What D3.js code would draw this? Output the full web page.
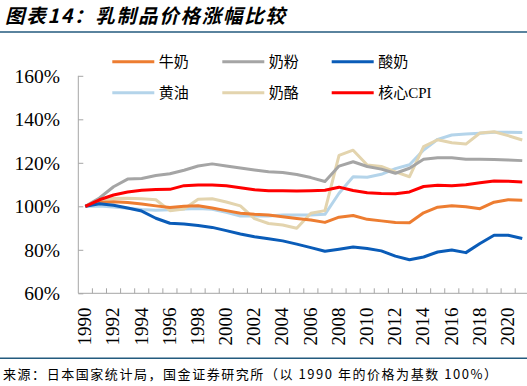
<!DOCTYPE html>
<html>
<head>
<meta charset="utf-8">
<script src="https://cdn.jsdelivr.net/npm/d3@7"></script>
<style>
  html, body { margin: 0; padding: 0; background: #fff; }
  svg { display: block; }
</style>
</head>
<body>
<div id="chart"></div>
<script>
// years on the category axis
const years = d3.range(1990, 2022);
const yTicks = [60, 80, 100, 120, 140, 160];

// price index, 1990 = 100
const milk = [100, 101.8, 102.1, 101.8, 101.1, 100.2, 99.4, 100.0, 100.3, 99.2, 98.0, 96.8, 96.3, 96.0, 95.2, 94.4, 93.7, 92.6,
  95.0, 95.8, 94.0, 93.3, 92.5, 92.4, 97.0, 99.6, 100.2, 99.8, 98.9, 101.9, 103.0, 102.8];
const milkPowder = [100, 103.8, 109.0, 112.5, 112.8, 114.2, 115.0, 116.6, 118.5, 119.5, 118.5, 117.6, 116.7, 115.9, 115.5, 114.6, 113.2, 111.4,
  118.5, 120.5, 118.3, 117.1, 115.2, 117.5, 121.6, 122.3, 122.3, 121.6, 121.6, 121.5, 121.3, 121.0];
const yogurt = [100, 101.2, 100.5, 99.2, 97.8, 94.5, 92.2, 91.9, 91.2, 90.3, 88.8, 87.3, 86.0, 85.1, 84.1, 82.6, 81.0, 79.3,
  80.3, 81.3, 80.6, 79.5, 77.1, 75.4, 76.7, 79.0, 79.9, 78.7, 82.9, 86.7, 86.7, 85.2];
const butter = [100, 100.1, 99.7, 99.1, 98.5, 98.2, 98.4, 98.8, 99.0, 98.6, 97.2, 95.5, 95.5, 95.5, 96.0, 96.0, 96.0, 96.3,
  106.0, 113.6, 113.4, 114.7, 117.3, 119.1, 125.9, 130.8, 132.8, 133.2, 133.6, 134.0, 134.0, 133.9];
const cheese = [100, 102.8, 103.6, 103.7, 103.5, 103.0, 98.0, 98.8, 103.2, 103.5, 102.0, 100.2, 94.3, 92.1, 91.4, 89.9, 96.8, 98.0,
  123.4, 125.8, 119.0, 118.3, 115.8, 113.6, 127.4, 130.6, 129.2, 128.6, 133.7, 134.3, 132.5, 130.5];
const coreCpi = [100, 103.0, 105.2, 106.6, 107.4, 107.7, 107.8, 109.5, 109.8, 109.8, 109.4, 108.5, 107.6, 107.2, 107.1, 107.0, 107.2, 107.4,
  108.8, 107.3, 106.2, 105.9, 105.8, 106.6, 109.1, 109.7, 109.4, 109.9, 110.8, 111.6, 111.5, 111.2];

const seriesNames = ['牛奶', '奶粉', '酸奶', '黄油', '奶酪', '核心CPI'];
const seriesColors = ['#ED7D31', '#A5A5A5', '#0A5CB8', '#B4D4EA', '#E3D4AE', '#FF0000'];
const seriesValues = [milk, milkPowder, yogurt, butter, cheese, coreCpi];
// draw order, back to front
const drawOrder = [3, 4, 0, 1, 2, 5];

const width = 527;
const height = 386;
const plot = {left: 78.3, right: 529.3, top: 75.8, bottom: 293.3};
const navy = '#235a7e';
const axisGrey = '#a6a6a6';
const serif = '"Liberation Serif", "Times New Roman", serif';
const cjk = '"Liberation Serif", "Noto Sans CJK SC", serif';

const svg = d3.select('#chart')
  .append('svg')
  .attr('width', width)
  .attr('height', height);

// -------------------------------------------------------------------------
// Title and source

svg.append('text')
  .attr('x', 5)
  .attr('y', 23)
  .attr('textLength', 280)
  .attr('lengthAdjust', 'spacing')
  .style('font-family', '"Noto Sans CJK SC", sans-serif')
  .style('font-weight', 700)
  .style('font-style', 'italic')
  .style('font-size', '19.5px')
  .attr('fill', '#000')
  .text('图表14：乳制品价格涨幅比较');

svg.append('line')
  .attr('x1', 0).attr('x2', width)
  .attr('y1', 32).attr('y2', 32)
  .attr('stroke', navy)
  .attr('stroke-width', 1.5);

svg.append('line')
  .attr('x1', 0).attr('x2', width)
  .attr('y1', 358.3).attr('y2', 358.3)
  .attr('stroke', navy)
  .attr('stroke-width', 1.5);

svg.append('text')
  .attr('x', 3)
  .attr('y', 379)
  .attr('textLength', 494)
  .attr('lengthAdjust', 'spacing')
  .style('font-family', '"Noto Sans CJK SC", sans-serif')
  .style('font-size', '13px')
  .attr('fill', '#000')
  .text('来源：日本国家统计局，国金证券研究所（以 1990 年的价格为基数 100%）');

// -------------------------------------------------------------------------
// Scales

const x = d3.scaleBand()
  .domain(years)
  .range([plot.left, plot.right])
  .paddingInner(0)
  .paddingOuter(0);

const y = d3.scaleLinear()
  .domain([60, 160])
  .range([plot.bottom, plot.top]);

const cx = (yr) => x(yr) + x.bandwidth() / 2;

// -------------------------------------------------------------------------
// Axes

const yAxis = svg.append('g')
  .attr('transform', `translate(${plot.left},0)`)
  .call(d3.axisRight(y).tickValues(yTicks).tickSize(5).tickFormat(''));
yAxis.select('.domain').attr('stroke', axisGrey).attr('d', `M0,${plot.top}V${plot.bottom}`);
yAxis.selectAll('.tick line').attr('stroke', axisGrey);

svg.append('g')
  .selectAll('text')
  .data(yTicks)
  .enter()
  .append('text')
  .attr('x', 60)
  .attr('y', (d) => y(d))
  .attr('dy', '0.35em')
  .attr('text-anchor', 'end')
  .style('font-family', serif)
  .style('font-size', '19.5px')
  .attr('fill', '#000')
  .text((d) => `${d}%`);

// tick marks sit on category boundaries
const boundaries = d3.range(1, years.length).map((i) => x(years[i]));
const xAxis = svg.append('g');
xAxis.append('line')
  .attr('x1', plot.left).attr('x2', plot.right)
  .attr('y1', plot.bottom).attr('y2', plot.bottom)
  .attr('stroke', axisGrey);
xAxis.selectAll('.xtick')
  .data(boundaries)
  .enter()
  .append('line')
  .attr('class', 'xtick')
  .attr('x1', (d) => d).attr('x2', (d) => d)
  .attr('y1', plot.bottom).attr('y2', plot.bottom - 5)
  .attr('stroke', axisGrey);

xAxis.selectAll('.xlabel')
  .data(years.filter((yr) => (yr - 1990) % 2 === 0))
  .enter()
  .append('text')
  .attr('class', 'xlabel')
  .attr('transform', (d) => `translate(${cx(d) - 0.5},307.5) rotate(-90)`)
  .attr('dy', '0.33em')
  .attr('text-anchor', 'end')
  .style('font-family', serif)
  .style('font-size', '19px')
  .attr('fill', '#000')
  .text((d) => d);

// -------------------------------------------------------------------------
// Lines

const line = d3.line()
  .x((d, i) => cx(years[i]))
  .y((d) => y(d));

drawOrder.forEach((k) => {
  svg.append('path')
    .datum(seriesValues[k])
    .attr('d', line)
    .attr('fill', 'none')
    .attr('stroke', seriesColors[k])
    .attr('stroke-width', 3)
    .attr('stroke-linejoin', 'round');
});

// -------------------------------------------------------------------------
// Legend, 3 columns x 2 rows

const legendCols = [112.3, 222.3, 331.7];
const legendRows = [61.7, 92.7];
const legend = svg.append('g')
  .selectAll('g')
  .data(seriesNames)
  .enter()
  .append('g')
  .attr('transform', (d, i) => `translate(${legendCols[i % 3]},${legendRows[Math.floor(i / 3)]})`);
legend.append('line')
  .attr('x1', 0).attr('x2', 42)
  .attr('y1', 0).attr('y2', 0)
  .attr('stroke', (d, i) => seriesColors[i])
  .attr('stroke-width', 3);
legend.append('text')
  .attr('x', 46.5)
  .attr('dy', '0.36em')
  .style('font-family', cjk)
  .style('font-size', '15px')
  .attr('fill', '#000')
  .text((d) => d);
</script>
</body>
</html>
